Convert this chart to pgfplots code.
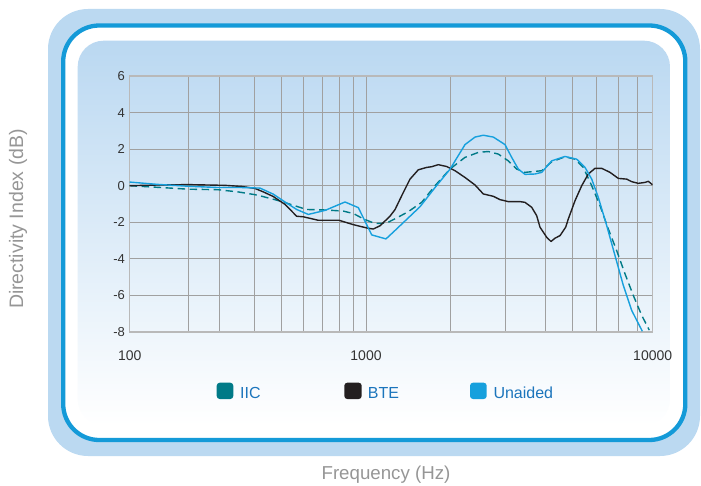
\documentclass[border=0pt]{standalone}
\usepackage{fontspec}
\setmainfont{Liberation Sans}
\usepackage{pgfplots}
\pgfplotsset{compat=1.18}
\definecolor{outerblue}{RGB}{187,217,241}
\definecolor{borderblue}{RGB}{20,154,216}
\definecolor{paneltop}{RGB}{186,216,241}
\definecolor{iic}{RGB}{0,122,135}
\definecolor{bte}{RGB}{35,31,32}
\definecolor{unaided}{RGB}{22,160,221}
\definecolor{legtext}{RGB}{27,117,188}
\definecolor{gridgray}{RGB}{160,160,160}
\definecolor{axisgray}{RGB}{185,185,185}
\definecolor{titlegray}{RGB}{150,150,150}
\definecolor{tickgray}{RGB}{51,51,51}
\begin{document}
\begin{tikzpicture}[x=1pt,y=1pt]
\path[use as bounding box] (0,0) rectangle (701,485);
\fill[outerblue, rounded corners=40pt] (48,29) rectangle (700,476);
\filldraw[fill=white, draw=borderblue, line width=4.3pt, rounded corners=36pt] (63.2,45) rectangle (685.3,459.5);
\shade[top color=paneltop, bottom color=white, rounded corners=26pt] (77.7,60) rectangle (670,444.3);
\begin{axis}[
  at={(129.7pt,153pt)}, anchor=south west,
  scale only axis, width=523pt, height=256pt,
  xmin=100, xmax=10000, ymin=-8, ymax=6,
  x coord trafo/.code={\pgfmathparse{ifthenelse(#1<999.5, ln(#1/100)/2.302585, 1+1.21329*ln(#1/1000)/2.302585)}},
  xtick={100,1000,10000}, xticklabels={100,1000,10000},
  minor xtick={178,240,338,440,545,653,769,884,1974,3053,4236,5243,6343,7586,8838},
  ytick={-8,-6,-4,-2,0,2,4,6}, yticklabels={-8,-6,-4,-2,0,2,4,6},
  grid=both,
  major grid style={gridgray, line width=0.8pt},
  minor grid style={gridgray, line width=0.8pt},
  axis line style={axisgray, line width=1.5pt},
  major tick length=0pt, minor tick length=0pt,
  /pgf/number format/assume math mode=true,
  xticklabel style={font=\fontsize{14}{14}\selectfont, text=tickgray, anchor=center, yshift=-24pt},
  yticklabel style={font=\fontsize{13}{13}\selectfont, text=tickgray, anchor=east, xshift=-1.2pt},
]
\addplot[iic, line width=1.4pt, dash pattern=on 7.5pt off 4.5pt, line join=round] coordinates {
(100,0) (132,-0.09) (177,-0.19) (237,-0.22) (288,-0.34) (339,-0.49) (368,-0.6) (405,-0.74) (447,-0.89) (492,-1.07) (561,-1.30) (682,-1.33) (802,-1.39) (884,-1.52) (974,-1.81) (1075,-2.07) (1181,-2.04) (1280,-1.76) (1404,-1.42) (1564,-0.91) (1741,0) (1963,0.91) (2215,1.55) (2464,1.82) (2670,1.87) (2893,1.73) (3135,1.36) (3354,0.91) (3586,0.73) (4101,0.82) (4443,1.31) (4944,1.58) (5358,1.45) (5727,1.0) (6127,0) (6549,-1.09) (7000,-2.36) (7489,-3.55) (8005,-4.82) (8557,-6.0) (9155,-7.09) (9730,-7.9)
};
\addplot[bte, line width=1.4pt, line join=round] coordinates {
(100,0) (132,0.04) (177,0.06) (253,0.02) (298,-0.04) (339,-0.15) (368,-0.34) (405,-0.59) (454,-1.02) (509,-1.67) (543,-1.70) (628,-1.89) (769,-1.89) (884,-2.13) (1006,-2.31) (1060,-2.37) (1119,-2.19) (1212,-1.67) (1262,-1.31) (1332,-0.55) (1424,0.36) (1522,0.87) (1628,1.0) (1695,1.04) (1787,1.15) (1912,1.05) (2044,0.82) (2215,0.45) (2400,0.04) (2565,-0.45) (2780,-0.58) (2933,-0.76) (3135,-0.87) (3444,-0.87) (3586,-0.91) (3784,-1.18) (3939,-1.64) (4045,-2.27) (4269,-2.82) (4418,-3.05) (4562,-2.87) (4749,-2.73) (4971,-2.27) (5077,-1.82) (5358,-0.82) (5654,0) (5962,0.64) (6292,0.95) (6639,0.95) (7097,0.73) (7586,0.4) (8115,0.36) (8448,0.22) (8909,0.13) (9400,0.18) (9654,0.24) (10000,0.04)
};
\addplot[unaided, line width=1.4pt, line join=round] coordinates {
(100,0.20) (132,0.07) (177,-0.03) (237,-0.1) (298,-0.1) (356,-0.13) (405,-0.46) (454,-0.89) (509,-1.30) (570,-1.57) (671,-1.35) (815,-0.89) (928,-1.20) (1047,-2.69) (1174,-2.91) (1262,-2.45) (1543,-1.15) (1741,-0.1) (1963,0.9) (2215,2.25) (2400,2.66) (2565,2.76) (2780,2.66) (3053,2.25) (3222,1.55) (3398,0.91) (3586,0.62) (3886,0.64) (4101,0.73) (4443,1.36) (4944,1.6) (5431,1.45) (5806,1.0) (6127,0.36) (6461,-0.64) (6911,-2.18) (7388,-3.82) (7897,-5.45) (8448,-6.82) (8795,-7.36) (9200,-7.96)
};
\end{axis}
\node[rotate=90, text=titlegray, font=\fontsize{19.5}{20}\selectfont] at (18,266) {Directivity Index (dB)};
\node[text=titlegray, font=\fontsize{18.7}{20}\selectfont] at (386,10) {Frequency (Hz)};
\fill[iic, rounded corners=3pt] (216.7,86) rectangle (233.3,102.3);
\node[anchor=base west, inner sep=0pt, text=legtext, font=\fontsize{16}{16}\selectfont] at (240,86.7) {IIC};
\fill[bte, rounded corners=3pt] (344.3,86) rectangle (361.7,102.3);
\node[anchor=base west, inner sep=0pt, text=legtext, font=\fontsize{16}{16}\selectfont] at (367.7,86.7) {BTE};
\fill[unaided, rounded corners=3pt] (470,86) rectangle (486.7,102.3);
\node[anchor=base west, inner sep=0pt, text=legtext, font=\fontsize{16}{16}\selectfont] at (493.3,86.7) {Unaided};
\end{tikzpicture}
\end{document}
